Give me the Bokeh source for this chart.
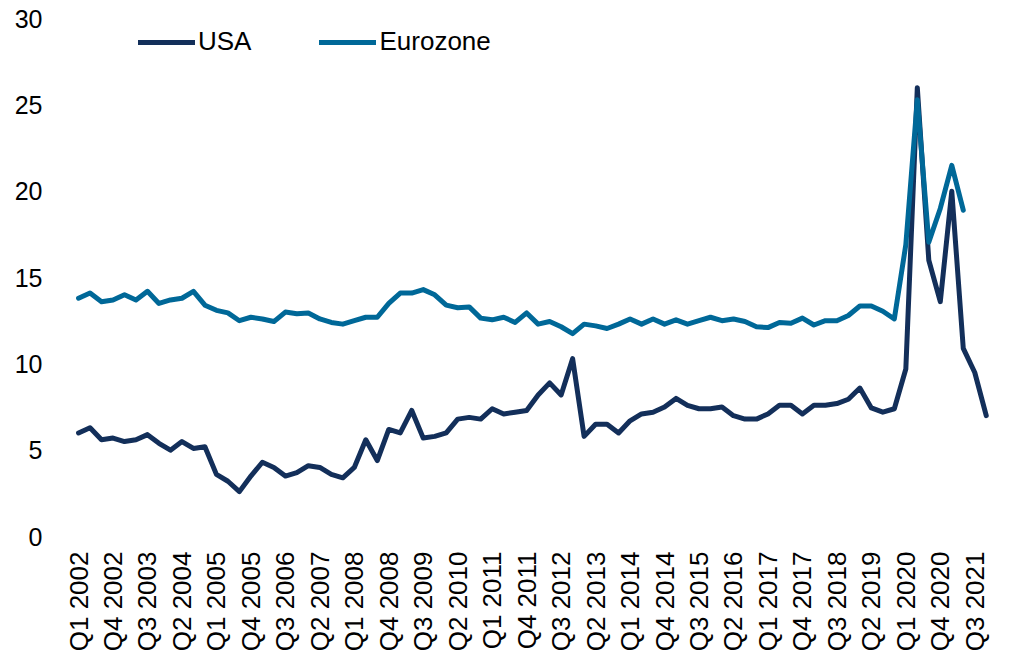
import math
from bokeh.plotting import figure
from bokeh.models import FixedTicker, Legend, LegendItem, Range1d
from bokeh.embed import file_html
from bokeh.resources import INLINE

# Quarters Q1 2002 .. Q4 2021
years = list(range(2002, 2022))
quarters = [f"Q{q} {y}" for y in years for q in (1, 2, 3, 4)]

# Household saving rate (%)
usa = [6.0, 6.3, 5.6, 5.7, 5.5, 5.6, 5.9, 5.4, 5.0, 5.5,
       5.1, 5.2, 3.6, 3.2, 2.6, 3.5, 4.3, 4.0, 3.5, 3.7,
       4.1, 4.0, 3.6, 3.4, 4.0, 5.6, 4.4, 6.2, 6.0, 7.3,
       5.7, 5.8, 6.0, 6.8, 6.9, 6.8, 7.4, 7.1, 7.2, 7.3,
       8.2, 8.9, 8.2, 10.3, 5.8, 6.5, 6.5, 6.0, 6.7, 7.1,
       7.2, 7.5, 8.0, 7.6, 7.4, 7.4, 7.5, 7.0, 6.8, 6.8,
       7.1, 7.6, 7.6, 7.1, 7.6, 7.6, 7.7, 7.95, 8.6, 7.45,
       7.2, 7.4, 9.7, 26.0, 16.0, 13.6, 20.0, 10.9, 9.5, 7.0]

eurozone = [13.8, 14.1, 13.6, 13.7, 14.0, 13.7, 14.2, 13.5, 13.7, 13.8,
            14.2, 13.4, 13.1, 12.95, 12.5, 12.7, 12.6, 12.45, 13.0, 12.9,
            12.95, 12.6, 12.4, 12.3, 12.5, 12.7, 12.7, 13.5, 14.1, 14.1,
            14.3, 14.0, 13.4, 13.25, 13.3, 12.65, 12.55, 12.7, 12.4, 12.95,
            12.3, 12.45, 12.15, 11.75, 12.3, 12.2, 12.05, 12.3, 12.6, 12.3,
            12.6, 12.3, 12.55, 12.3, 12.5, 12.7, 12.5, 12.6, 12.45, 12.15,
            12.1, 12.4, 12.35, 12.65, 12.25, 12.5, 12.5, 12.8, 13.35, 13.35,
            13.05, 12.6, 16.9, 25.3, 17.05, 19.0, 21.5, 18.9]

tick_idx = list(range(0, len(quarters), 3))
tick_labels = [quarters[i] for i in tick_idx]
y_ticks = [0, 5, 10, 15, 20, 25, 30]

USA_COLOR = "#132F5A"
EZ_COLOR = "#006898"
FONT = "Liberation Sans"

p = figure(width=1004, height=655, output_backend="svg", toolbar_location=None,
           x_range=Range1d(-1.57, 80.24), y_range=Range1d(0, 30.12),
           min_border_left=60, min_border_right=4, min_border_top=16,
           min_border_bottom=119)
p.outline_line_color = None
p.grid.grid_line_color = None

r_usa = p.line(list(range(len(usa))), usa, line_color=USA_COLOR, line_width=5,
               line_join="round", line_cap="round")
r_ez = p.line(list(range(len(eurozone))), eurozone, line_color=EZ_COLOR, line_width=5,
              line_join="round", line_cap="round")

p.xaxis.ticker = FixedTicker(ticks=tick_idx)
p.xaxis.major_label_overrides = {i: lab for i, lab in zip(tick_idx, tick_labels)}
p.xaxis.major_label_orientation = math.pi / 2
p.yaxis.ticker = FixedTicker(ticks=y_ticks)

for ax in (p.xaxis, p.yaxis):
    ax.axis_line_color = None
    ax.major_tick_line_color = None
    ax.minor_tick_line_color = None
    ax.major_label_text_font = FONT
    ax.major_label_text_color = "#000000"
p.xaxis.major_label_text_font_size = "26px"
p.yaxis.major_label_text_font_size = "25px"
p.xaxis.major_label_standoff = 9
p.yaxis.major_label_standoff = 12

legend = Legend(items=[LegendItem(label="USA", renderers=[r_usa]),
                       LegendItem(label="Eurozone", renderers=[r_ez])],
                orientation="horizontal", location=(78, 479))
legend.label_text_font = FONT
legend.label_text_font_size = "26px"
legend.label_text_color = "#000000"
legend.glyph_width = 57
legend.glyph_height = 28
legend.label_height = 28
legend.label_standoff = 3
legend.spacing = 68
legend.padding = 0
legend.margin = 0
legend.border_line_alpha = 0
legend.background_fill_alpha = 0
p.add_layout(legend)

open("out.html", "w").write(file_html(p, INLINE))
